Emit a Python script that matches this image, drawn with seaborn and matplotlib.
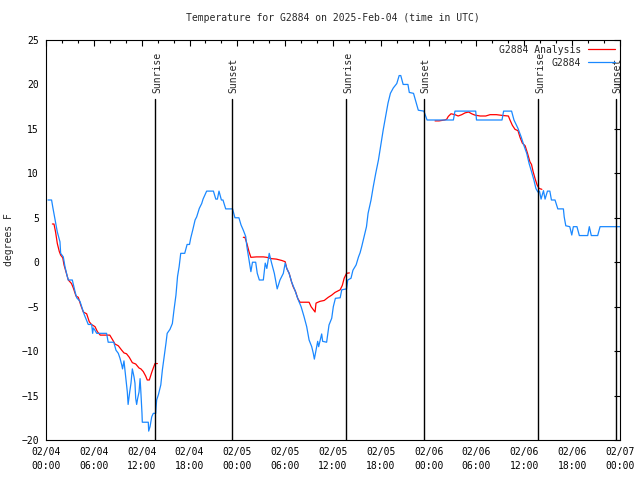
"""
Temperature for G2884 (observed vs analysis)
"""

import numpy as np
import pandas as pd
import matplotlib
matplotlib.use("Agg")
import matplotlib.pyplot as plt
import matplotlib.transforms as mtransforms
from matplotlib.ticker import MultipleLocator
import seaborn as sns

# ---------------------------------------------------
# Data (hours since 2025-02-04 00:00 UTC, degrees F)
# ---------------------------------------------------

obs_hours = [
    0.25, 0.7, 0.85, 1.1, 1.42, 1.75, 1.84, 2.17, 2.38, 2.67, 2.8, 3.3,
    3.64, 3.85, 4.26, 4.48, 4.8, 5.3, 5.73, 5.85, 5.94, 6.1, 6.36, 7.6,
    7.8, 8.5, 8.78, 9.07, 9.28, 9.5, 9.6, 9.78, 10.0, 10.2, 10.3, 10.5,
    10.66, 10.83, 11.04, 11.16, 11.25, 11.37, 11.5, 11.67, 11.8, 11.9,
    12.04, 12.08, 12.83, 12.88, 13.05, 13.26, 13.46, 13.76, 13.8, 13.88,
    14.1, 14.4, 14.6, 14.8, 15.05, 15.2, 15.55, 15.85, 16.05, 16.3, 16.5,
    16.7, 16.9, 17.4, 17.7, 18.0, 18.15, 18.4, 18.7, 18.9, 19.23, 19.53,
    19.7, 20.15, 21.0, 21.3, 21.5, 21.7, 22.0, 22.2, 22.54, 23.4, 23.7,
    24.2, 24.46, 24.75, 25.05, 25.2, 25.4, 25.6, 25.7, 25.9, 26.3, 26.5,
    26.76, 27.26, 27.5, 27.7, 28.0, 28.3, 28.64, 29.0, 29.35, 29.77, 30.0,
    30.2, 30.5, 30.8, 31.2, 31.65, 32.0, 32.36, 32.7, 33.0, 33.33, 33.53,
    33.66, 33.87, 34.08, 34.2, 34.58, 34.7, 35.2, 35.5, 35.84, 36.04, 36.3,
    36.9, 37.1, 37.7, 37.85, 38.26, 38.5, 38.9, 39.2, 39.4, 39.6, 39.9,
    40.2, 40.4, 40.77, 41.05, 41.36, 41.7, 42.0, 42.3, 42.6, 42.9, 43.2,
    43.56, 44.0, 44.3, 44.5, 44.8, 45.4, 45.57, 46.1, 46.4, 46.7, 47.4,
    47.8, 51.1, 51.3, 53.9, 54.0, 57.2, 57.4, 58.4, 58.7, 59.2, 59.6, 60.0,
    60.3, 60.6, 60.9, 61.2, 61.45, 61.7, 61.9, 62.1, 62.4, 62.6, 62.9,
    63.2, 63.4, 63.85, 64.2, 64.9, 65.0, 65.2, 65.7, 65.95, 66.15, 66.6,
    66.9, 67.95, 68.15, 68.4, 69.2, 69.5, 72.0
]

obs_temps = [
    7, 7, 6.2, 5, 3.4, 2.3, 1.0, 0.6, -0.5, -1.6, -2, -2,
    -3.3, -4.0, -4.4, -5, -5.9, -7, -7, -8, -7.4, -7.6, -8, -8,
    -9, -9, -9.9, -10.25, -10.8, -11.56, -12, -11.1, -12.9, -14.6, -16, -14.6,
    -13.6, -12, -12.9, -13.6, -15.3, -16, -15.3, -14.6, -13.1, -14.6,
    -17, -18, -18, -19, -18.5, -17.4, -17, -17, -16.4, -15.5,
    -14.9, -13.8, -12.1, -10.8, -9.1, -8, -7.55, -6.9, -5.4, -3.7, -1.6,
    -0.5, 1, 1, 2, 2, 2.7, 3.6, 4.75, 5.1, 6.06, 6.6,
    7.1, 8, 8, 7.1, 7.1, 8, 7, 7, 6, 6, 5,
    5, 4.2, 3.6, 2.9, 1.75, 0.6, -0.5, -1.06, 0, 0, -1.25,
    -2, -2, -0.1, -0.7, 1, -0.1, -1.25, -3, -2, -1.25, -0.1,
    -0.7, -1.25, -2.2, -3.1, -4.25, -5, -6.1, -7.25, -8.75, -9.5, -10.25,
    -10.9, -9.9, -8.9, -9.5, -8.07, -8.9, -9, -7.06, -6.3, -5, -4.06,
    -4, -3.1, -3, -2, -1.8, -0.9, -0.3, 0.6, 1.07, 1.75, 2.9,
    4, 5.5, 7, 8.5, 10, 11.5, 13.2, 14.9, 16.4, 17.9, 19,
    19.6, 20.1, 21, 21, 20, 20, 19.1, 19, 18.06, 17.1, 17,
    16, 16, 17, 17, 16, 16, 17, 17, 16, 15.06, 14.1, 13,
    12.25, 11.1, 10.2, 9.25, 8.3, 7.9, 8, 7.1, 8.05, 7.1, 8,
    8, 7, 7, 6, 6, 5.1, 4.1, 4, 3.06, 4, 4,
    3, 3, 4, 3, 3, 4, 4
]

analysis_hours = [
    # night 1
    0.8, 1.0, 1.2, 1.42, 1.67, 1.84, 2.1, 2.26, 2.5, 2.8, 3.2, 3.43, 3.76,
    4.05, 4.35, 4.68, 5.1, 5.43, 5.7, 6.15, 6.44, 6.8, 7.5, 8.0, 8.37,
    8.65, 9.07, 9.5, 9.78, 10.1, 10.45, 10.83, 11.25, 11.67, 11.9, 12.2,
    12.5, 12.7, 12.96, 13.26, 13.46, 13.67, 13.97,
    # night 2
    24.75, 24.95, 25.2, 25.46, 25.7, 26.4, 27.26, 27.7, 28.3, 28.9, 29.56,
    30.0, 30.2, 30.5, 30.8, 31.0, 31.3, 31.57, 31.86, 33.0, 33.25, 33.5,
    33.75, 33.87, 34.37, 34.9, 35.4, 35.84, 36.25, 36.9, 37.17, 37.4,
    37.7, 38.05,
    # night 3
    48.8, 49.3, 50.0, 50.26, 50.46, 50.8, 51.3, 51.7, 52.15, 52.56, 53.0,
    53.4, 53.8, 54.45, 55.16, 55.7, 56.5, 57.36, 58.0, 58.2, 58.5, 58.83,
    59.2, 59.46, 59.75, 60.1, 60.4, 60.7, 60.9, 61.1, 61.35, 61.6, 61.85,
    62.2
]

analysis_temps = [
    4.3, 4.3, 3.4, 2.1, 1.2, 0.8, 0.5, -0.3, -1.06, -2, -2.4, -2.9, -3.8,
    -3.95, -4.8, -5.6, -5.8, -6.7, -7, -7.25, -7.8, -8.2, -8.2, -8.2, -8.75,
    -9.2, -9.4, -9.9, -10.2, -10.3, -10.7, -11.3, -11.45, -11.9, -12, -12.3,
    -12.8, -13.25, -13.25, -12.4, -11.9, -11.4, -11.4,
    2.8, 2.8, 2.1, 1.2, 0.55, 0.6, 0.6, 0.55, 0.4, 0.35, 0.2,
    0.06, -0.7, -1.25, -2.2, -2.75, -3.3, -4.06, -4.5, -4.5, -5, -5.3,
    -5.6, -4.6, -4.4, -4.3, -3.95, -3.7, -3.4, -3.1, -2.6, -1.8,
    -1.25, -1.2,
    15.9, 15.9, 16.0, 16.08, 16.4, 16.7, 16.6, 16.45, 16.6, 16.8, 16.9,
    16.7, 16.55, 16.45, 16.45, 16.6, 16.6, 16.5, 16.45, 16.0, 15.4, 14.95,
    14.8, 14.05, 13.4, 13.1, 12.25, 11.3, 11.0, 10.2, 9.4, 8.7, 8.3,
    8.2
]

analysis_segment = [1] * 43 + [2] * 34 + [3] * 34

sun_hours = [13.71, 23.27, 37.67, 47.38, 61.76, 71.46]
sun_labels = ["Sunrise", "Sunset", "Sunrise", "Sunset", "Sunrise", "Sunset"]

tick_hours = list(range(0, 73, 6))
tick_labels = [
    "02/04\n00:00", "02/04\n06:00", "02/04\n12:00", "02/04\n18:00",
    "02/05\n00:00", "02/05\n06:00", "02/05\n12:00", "02/05\n18:00",
    "02/06\n00:00", "02/06\n06:00", "02/06\n12:00", "02/06\n18:00",
    "02/07\n00:00"
]

obs_df = pd.DataFrame({"hour": obs_hours, "temp": obs_temps})

analysis_df = pd.DataFrame({
    "hour": analysis_hours,
    "temp": analysis_temps,
    "segment": analysis_segment
})

# ---------------------------------------------------
# Style
# ---------------------------------------------------

sns.set_style("white")

plt.rcParams["font.family"] = ["DejaVu Sans Mono", "DejaVu Sans"]
plt.rcParams["font.size"] = 7

fig = plt.figure(figsize=(6.4, 4.8), dpi=100)

ax = fig.add_axes([46/640, 40/480, 574/640, 400/480])

# ---------------------------------------------------
# Lines
# ---------------------------------------------------

sns.lineplot(
    data=analysis_df,
    x="hour",
    y="temp",
    units="segment",
    estimator=None,
    sort=False,
    color="#ff0000",
    linewidth=0.9,
    ax=ax
)

sns.lineplot(
    data=obs_df,
    x="hour",
    y="temp",
    estimator=None,
    sort=False,
    color="#1a88ff",
    linewidth=0.9,
    ax=ax
)

# legend (gnuplot style: text first, sample line after)
handles = [
    plt.Line2D([], [], color="#ff0000", linewidth=0.9),
    plt.Line2D([], [], color="#1a88ff", linewidth=0.9)
]

ax.legend(
    handles,
    ["G2884 Analysis", "G2884"],
    loc="upper right",
    markerfirst=False,
    frameon=False,
    fontsize=7,
    handlelength=2.8,
    handletextpad=0.7,
    labelspacing=0.3,
    borderaxespad=0.1
)

# ---------------------------------------------------
# Sunrise / Sunset markers
# ---------------------------------------------------

trans = mtransforms.blended_transform_factory(ax.transData, ax.transAxes)

for hour, label in zip(sun_hours, sun_labels):

    ax.axvline(hour, ymin=0, ymax=0.8525, color="black", linewidth=1)

    ax.text(
        hour + 0.2,
        0.868,
        label,
        transform=trans,
        rotation=90,
        ha="center",
        va="bottom",
        fontsize=7
    )

# ---------------------------------------------------
# Axes
# ---------------------------------------------------

ax.set_xlim(0, 72)
ax.set_ylim(-20, 25)

ax.set_xticks(tick_hours)
ax.set_xticklabels(tick_labels)
ax.xaxis.set_minor_locator(MultipleLocator(2))
ax.set_yticks(range(-20, 26, 5))

for t in ax.get_xticklabels():
    t.set_linespacing(1.5)

ax.tick_params(
    which="both", direction="in", top=True, right=True,
    width=0.8, labelsize=7, colors="black"
)
ax.tick_params(which="major", length=4.5, pad=5)
ax.tick_params(which="minor", length=2.2)

for spine in ax.spines.values():
    spine.set_color("black")
    spine.set_linewidth(0.8)

ax.set_xlabel("")
ax.set_ylabel("degrees F", fontsize=7)
ax.yaxis.set_label_coords(-0.055, 0.5)

ax.set_title(
    "Temperature for G2884 on 2025-Feb-04 (time in UTC)",
    fontsize=7,
    pad=14
)

plt.savefig("out.png", dpi=100)

plt.close()
